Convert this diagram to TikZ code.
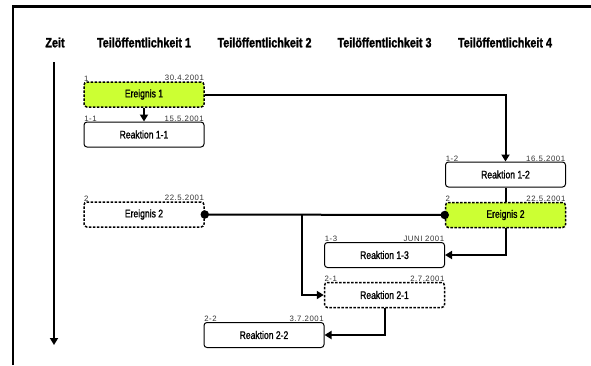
\documentclass[tikz,border=0pt]{standalone}
\usepackage{fontspec}
\setmainfont{Liberation Sans}
\newfontfamily\condbold{Liberation Sans}[FakeStretch=0.8, UprightFont=* Bold, FakeBold=1.5]
\newfontfamily\condmed{Liberation Sans}[FakeStretch=0.78, FakeBold=1.3]
\newfontfamily\lblfont{Liberation Sans}[LetterSpace=7]
\usetikzlibrary{arrows.meta}
\definecolor{lime}{HTML}{CCFF33}
\definecolor{lblgray}{HTML}{333333}
\tikzset{
  hdr/.style={font=\condbold\fontsize{13.5}{15}\selectfont, inner sep=0pt},
  box/.style={draw, rounded corners=3pt, minimum width=120pt, minimum height=25pt,
              line width=1pt, inner sep=0pt, font=\condmed\fontsize{11}{12}\selectfont},
  evbox/.style={box, dash pattern=on 2.5pt off 1.5pt, line width=1.5pt},
  hot/.style={fill=lime},
  lbl/.style={font=\lblfont\fontsize{7.8}{8}\selectfont, text=lblgray, inner sep=0.6pt},
  conn/.style={line width=2pt},
  arr/.style={conn, -{Triangle[width=8pt,length=7pt]}},
  dot/.style={circle, fill=black, inner sep=0pt, minimum size=8.5pt}
}
\begin{document}
\begin{tikzpicture}[x=1pt,y=-1pt]
\useasboundingbox (0,0) rectangle (591,365);
\draw[line width=2.2pt] (13,365) -- (13,6.5) -- (591,6.5);
% headers
\node[hdr] (hz) at (55,42.5) {Zeit};
\node[hdr] (h1) at (144,42.5) {Teilöffentlichkeit 1};
\node[hdr] (h2) at (264.5,42.5) {Teilöffentlichkeit 2};
\node[hdr] (h3) at (384.5,42.5) {Teilöffentlichkeit 3};
\node[hdr] (h4) at (505,42.5) {Teilöffentlichkeit 4};
% time axis
\coordinate (t0) at (54,62);
\coordinate (t1) at (54,345);
\draw[arr] (t0) -- (t1);
% boxes
\node[evbox,hot] (e1) at (144,94.5) {Ereignis 1};
\node[box] (r11) at (144,134.5) {Reaktion 1-1};
\node[box] (r12) at (505.5,174.5) {Reaktion 1-2};
\node[evbox] (e2l) at (144,214.5) {Ereignis 2};
\node[evbox,hot] (e2r) at (505.5,215) {Ereignis 2};
\node[box] (r13) at (384.5,255) {Reaktion 1-3};
\node[evbox] (r21) at (384.5,295) {Reaktion 2-1};
\node[box] (r22) at (264,335) {Reaktion 2-2};
% small labels
\foreach \n/\a/\b in {e1/1/30.4.2001, r11/1-1/15.5.2001, r12/1-2/16.5.2001,
  e2l/2/22.5.2001, e2r/2/22.5.2001, r13/1-3/JUNI 2001, r21/2-1/2.7.2001, r22/2-2/3.7.2001}{
  \node[lbl, anchor=south west] (\n-id) at ([yshift=-0.6pt]\n.north west) {\a};
  \node[lbl, anchor=south east] (\n-dt) at ([yshift=-0.6pt]\n.north east) {\b};
}
% connectors
\draw[arr] (e1.south) -- (r11.north);
\draw[arr] (e1.east) -| (r12.north);
\draw[conn] (r12.south) -- (e2r.north);
\draw[conn] (e2l.east) -- (e2r.west);
\node[dot] (d1) at (e2l.east) {};
\node[dot] (d2) at (e2r.west) {};
\coordinate (br) at (302,214.5);
\draw[arr] (br) |- (r21.west);
\draw[arr] (e2r.south) |- (r13.east);
\draw[arr] (r21.south) |- (r22.east);
\end{tikzpicture}
\end{document}
